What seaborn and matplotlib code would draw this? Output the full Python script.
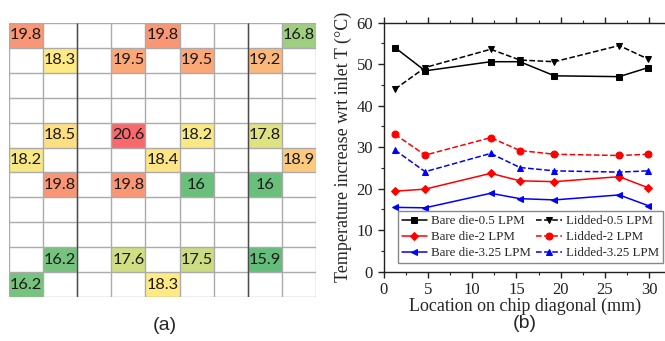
import numpy as np
import pandas as pd
import matplotlib
matplotlib.use('Agg')
import matplotlib.pyplot as plt
from matplotlib.colors import LinearSegmentedColormap, TwoSlopeNorm
from matplotlib.ticker import MultipleLocator
import seaborn as sns

# (a) chip map: row, column, value
cell_rows = [0, 0, 0, 1, 1, 1, 1, 4, 4, 4, 4, 5, 5, 5, 6, 6, 6, 6, 9, 9, 9, 9, 10, 10]
cell_cols = [0, 4, 8, 1, 3, 5, 7, 1, 3, 5, 7, 0, 4, 8, 1, 3, 5, 7, 1, 3, 5, 7, 0, 4]
cell_vals = [19.8, 19.8, 16.8, 18.3, 19.5, 19.5, 19.2, 18.5, 20.6, 18.2, 17.8,
             18.2, 18.4, 18.9, 19.8, 19.8, 16, 16, 16.2, 17.6, 17.5, 15.9, 16.2, 18.3]
n_rows, n_cols = 11, 9

# (b) temperature along the chip diagonal
location = [1.3, 4.7, 12.1, 15.4, 19.3, 26.6, 29.9]
bare_05 = [54.0, 48.4, 50.6, 50.6, 47.2, 47.0, 49.2]
lidded_05 = [44.0, 49.2, 53.6, 51.0, 50.6, 54.5, 51.2]
bare_2 = [19.4, 19.9, 23.7, 21.9, 21.7, 22.9, 20.2]
lidded_2 = [33.1, 28.1, 32.3, 29.2, 28.3, 28.0, 28.3]
bare_325 = [15.5, 15.4, 18.9, 17.6, 17.3, 18.5, 15.9]
lidded_325 = [29.3, 24.1, 28.5, 25.1, 24.3, 24.0, 24.3]

sns.set_theme(style='ticks')
plt.rcParams['font.family'] = ['Liberation Serif', 'DejaVu Serif']

fig = plt.figure(figsize=(6.65, 3.41), dpi=100)

# ---- (a) heatmap
ax1 = fig.add_axes([9 / 665, 1 - 297 / 341, 307 / 665, 274 / 341])
grid = np.full((n_rows, n_cols), np.nan)
for r, c, v in zip(cell_rows, cell_cols, cell_vals):
    grid[r, c] = v
cmap = LinearSegmentedColormap.from_list('excel', ['#63BE7B', '#FFEB84', '#F8696B'])
norm = TwoSlopeNorm(vmin=min(cell_vals), vcenter=18.3, vmax=max(cell_vals))
sns.heatmap(grid, ax=ax1, cmap=cmap, norm=norm, annot=True, fmt='g', cbar=False,
            xticklabels=False, yticklabels=False,
            annot_kws={'fontsize': 11.8, 'family': 'Lato', 'color': '#1a1a1a'})
ax1.hlines(range(n_rows + 1), 0, n_cols, color='#ABABAB', lw=1.0)
ax1.vlines(range(n_cols + 1), 0, n_rows, color='#ABABAB', lw=1.0)
ax1.vlines([2, 7], 0, n_rows, color='#4a4a4a', lw=1.0)
for s in ax1.spines.values():
    s.set_visible(False)
ax1.tick_params(left=False, bottom=False)
fig.text(165 / 665, 1 - 326 / 341, '(a)', ha='center', va='center',
         fontsize=14, family='Liberation Sans')

# ---- (b) line chart
ax2 = fig.add_axes([383.5 / 665, 1 - 271.7 / 341, 32 * 8.86 / 665, 249 / 341])
series = [
    (bare_05, 'Bare die-0.5 LPM', 'black', 's', '-'),
    (bare_2, 'Bare die-2 LPM', 'red', 'D', '-'),
    (bare_325, 'Bare die-3.25 LPM', 'blue', '<', '-'),
    (lidded_05, 'Lidded-0.5 LPM', 'black', 'v', '--'),
    (lidded_2, 'Lidded-2 LPM', 'red', 'o', '--'),
    (lidded_325, 'Lidded-3.25 LPM', 'blue', '^', '--'),
]
for vals, lab, col, mk, ls in series:
    sns.lineplot(x=location, y=vals, ax=ax2, color=col, marker=mk, linestyle=ls,
                 markersize=5 if mk != 'D' else 4.5, markeredgecolor=col,
                 markerfacecolor=col, lw=1.1, label=lab)
ax2.set_xlim(0, 32)
ax2.set_ylim(0, 60)
ax2.xaxis.set_major_locator(MultipleLocator(5))
ax2.xaxis.set_minor_locator(MultipleLocator(2.5))
ax2.yaxis.set_major_locator(MultipleLocator(10))
ax2.yaxis.set_minor_locator(MultipleLocator(5))
ax2.tick_params(which='both', direction='out', top=True, labelsize=12, colors='#222222')
ax2.tick_params(which='major', length=4, width=1)
ax2.tick_params(which='minor', length=2.5, width=0.8)
for s in ax2.spines.values():
    s.set_linewidth(1.0)
    s.set_color('#222222')
ax2.set_xlabel('Location on chip diagonal (mm)', fontsize=13, labelpad=0)
ax2.set_ylabel('Temperature increase wrt inlet T (\u00b0C)', fontsize=13, labelpad=3)
ax2.legend(ncol=2, loc='lower left', bbox_to_anchor=(0.05, 0.035), borderaxespad=0,
           fontsize=9.3, frameon=True, fancybox=False, edgecolor='#888888', framealpha=1,
           handlelength=2.0, labelspacing=0.3, columnspacing=0.4, borderpad=0.3,
           handletextpad=0.3)
fig.text(525 / 665, 1 - 324 / 341, '(b)', ha='center', va='center',
         fontsize=14, family='Liberation Sans')

fig.savefig('out.png', dpi=100)
